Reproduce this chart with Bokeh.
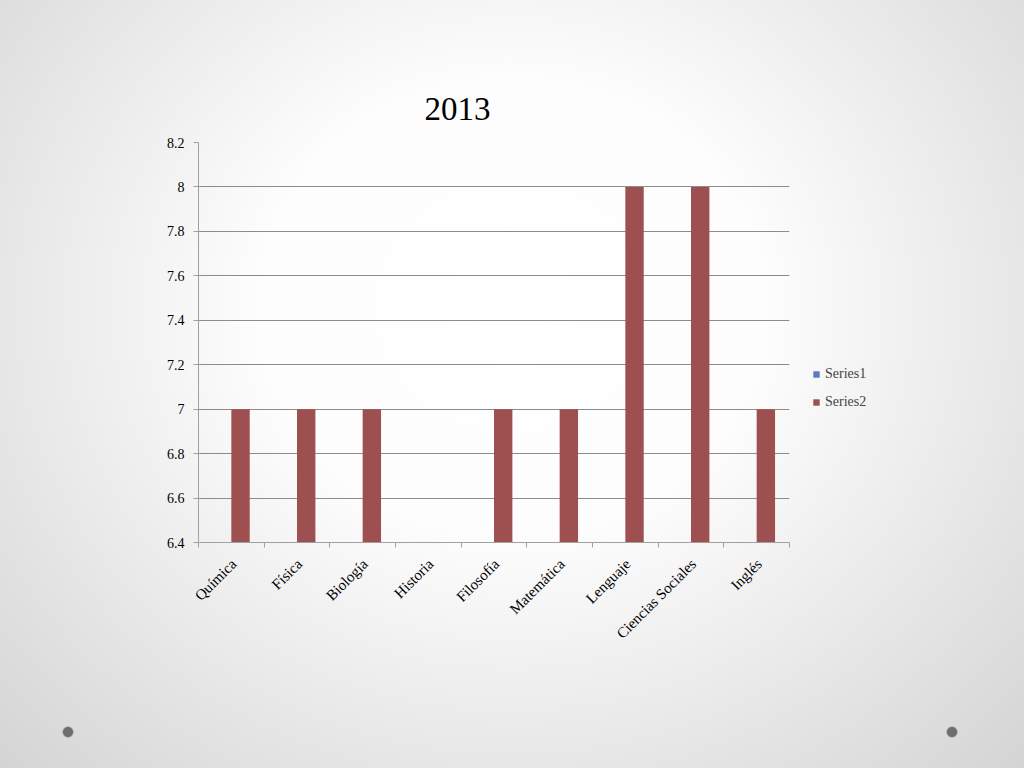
import math
from bokeh.plotting import figure
from bokeh.models import (Range1d, FixedTicker, CustomJSTickFormatter, Legend, LegendItem,
                          ColumnDataSource, GlobalInlineStyleSheet)
from bokeh.transform import dodge
from bokeh.embed import file_html
from bokeh.resources import INLINE

# ---- data ----
categories = ["Química", "Física", "Biología", "Historia", "Filosofía",
              "Matemática", "Lenguaje", "Ciencias Sociales", "Inglés"]
series1 = [float("nan")] * 9  # no visible bars in the reference
series2 = [7, 7, 7, float("nan"), 7, 7, 8, 8, 7]
y_ticks = [6.4, 6.6, 6.8, 7.0, 7.2, 7.4, 7.6, 7.8, 8.0, 8.2]
title_text = "2013"
series_names = ["Series1", "Series2"]

FONT = "Liberation Serif"
C1 = "#5B7BC0"
C2 = "#9E4F50"

centers = [i + 0.5 for i in range(len(categories))]
src = ColumnDataSource(dict(x=centers, s1=series1, s2=series2))

p = figure(frame_width=591, frame_height=400,
           min_border_left=198, min_border_right=235,
           min_border_top=142, min_border_bottom=226,
           x_range=Range1d(0, len(categories)), y_range=Range1d(y_ticks[0], y_ticks[-1]),
           output_backend="svg", toolbar_location=None,
           background_fill_color=None, border_fill_color=None, outline_line_color=None)

r1 = p.vbar(x=dodge("x", -0.14), top="s1", width=0.28, source=src,
            fill_color=C1, line_color=None)
r2 = p.vbar(x=dodge("x", 0.14), top="s2", width=0.28, source=src,
            fill_color=C2, line_color=None)

# title
p.title.text = title_text
p.title.text_font = FONT
p.title.text_font_size = "33px"
p.title.text_font_style = "normal"
p.title.text_color = "#000000"
p.title.align = "left"
p.title.offset = 226
p.title.standoff = 46

# y axis
ya = p.yaxis[0]
ya.ticker = FixedTicker(ticks=y_ticks)
ya.formatter = CustomJSTickFormatter(code="return (Math.round(tick*10)/10).toString();")
ya.axis_line_color = "#a0a0a0"
ya.major_tick_line_color = "#a0a0a0"
ya.major_tick_out = 5
ya.major_tick_in = 0
ya.minor_tick_line_color = None
ya.major_label_text_font = FONT
ya.major_label_text_font_size = "14px"
ya.major_label_text_color = "#000000"
ya.major_label_standoff = 9

# x axis (labels anchored at a point slightly right of each category centre)
label_ticks = [c + 0.04 for c in centers]
xa = p.xaxis[0]
xa.ticker = FixedTicker(ticks=label_ticks, minor_ticks=list(range(len(categories) + 1)))
xa.formatter = CustomJSTickFormatter(args=dict(cats=categories),
                                     code="return cats[Math.floor(tick)];")
xa.axis_line_color = "#a0a0a0"
xa.major_tick_line_color = None
xa.minor_tick_line_color = "#a0a0a0"
xa.minor_tick_out = 5
xa.minor_tick_in = 0
xa.major_label_orientation = math.pi / 4
xa.major_label_text_font = FONT
xa.major_label_text_font_size = "15px"
xa.major_label_text_color = "#000000"
xa.major_label_standoff = 13

p.xgrid.visible = False
p.ygrid.grid_line_color = "#8c8c8c"

legend = Legend(items=[LegendItem(label=series_names[0], renderers=[r1]),
                       LegendItem(label=series_names[1], renderers=[r2])],
                location=(23, 130), padding=0, margin=0, spacing=8,
                label_height=20, glyph_width=8, glyph_height=8, label_standoff=5,
                label_text_font=FONT, label_text_font_size="14px",
                border_line_color=None, background_fill_alpha=0)
p.add_layout(legend, "right")

css = """
html { min-height: 100%;
  background:
    radial-gradient(circle at 68px 732px, #6e6e6e 0px, #6e6e6e 4.5px, rgba(110,110,110,0) 6px),
    radial-gradient(circle at 952px 732px, #6e6e6e 0px, #6e6e6e 4.5px, rgba(110,110,110,0) 6px),
    radial-gradient(ellipse farthest-corner at 50% 40%, #ffffff 0%, #fdfdfd 35%, #d4d4d4 100%);
  background-repeat: no-repeat; background-size: 1024px 768px; }
body { background: transparent; }
"""
p.stylesheets = [GlobalInlineStyleSheet(css=css)]

open("out.html", "w").write(file_html(p, INLINE))
